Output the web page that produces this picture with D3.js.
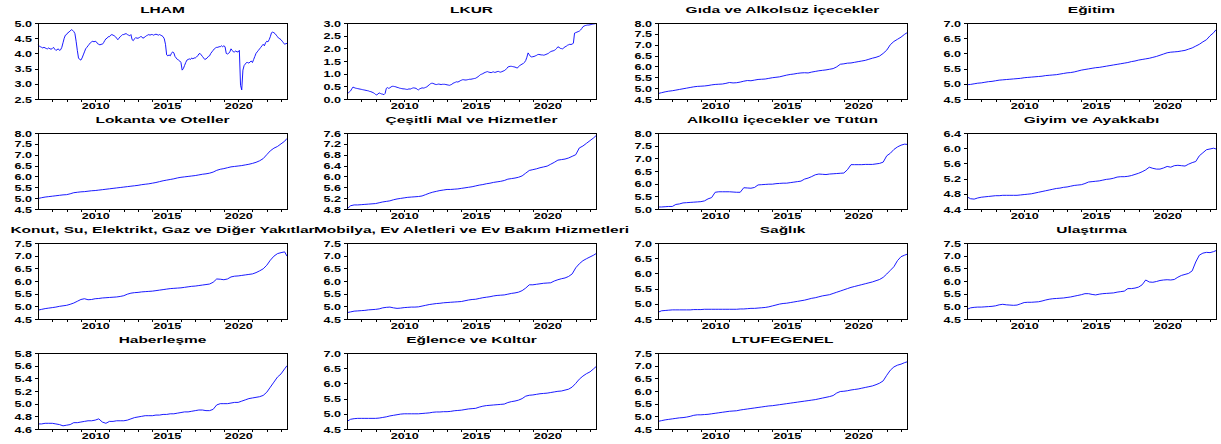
<!DOCTYPE html>
<html>
<head>
<meta charset="utf-8">
<script src="https://cdnjs.cloudflare.com/ajax/libs/d3/7.8.5/d3.min.js"></script>
<style>
body { margin: 0; background: #fff; }
#vis-panels svg { display: block; }
</style>
</head>
<body>
<div id="vis-panels"></div>
<script>
// panel titles, in drawing order (4 per row)
var titles = ["LHAM", "LKUR", "Gıda ve Alkolsüz İçecekler", "Eğitim",
              "Lokanta ve Oteller", "Çeşitli Mal ve Hizmetler", "Alkollü İçecekler ve Tütün", "Giyim ve Ayakkabı",
              "Konut, Su, Elektrikt, Gaz ve Diğer Yakıtlar", "Mobilya, Ev Aletleri ve Ev Bakım Hizmetleri", "Sağlık", "Ulaştırma",
              "Haberleşme", "Eğlence ve Kültür", "LTUFEGENEL"];

// y axis range and tick step for each panel
var yMin  = [2.5, 0.0, 4.5, 4.5, 4.5, 4.8, 5.0, 4.4, 4.5, 4.5, 4.5, 4.5, 4.6, 4.5, 4.5];
var yMax  = [5.0, 3.0, 8.0, 7.0, 8.0, 7.6, 8.0, 6.4, 7.5, 7.5, 7.0, 7.5, 5.8, 7.0, 7.5];
var yStep = [0.5, 0.5, 0.5, 0.5, 0.5, 0.4, 0.5, 0.4, 0.5, 0.5, 0.5, 0.5, 0.2, 0.5, 0.5];

var yearLabels = [2010, 2015, 2020];

// monthly series 2006M01 - 2023M06
var lham = [
  4.28, 4.24, 4.22, 4.20, 4.18, 4.20, 4.18, 4.16, 4.15, 4.18, 4.15, 4.14,
  4.16, 4.20, 4.14, 4.10, 4.12, 4.15, 4.10, 4.12, 4.20, 4.35, 4.50, 4.60,
  4.62, 4.68, 4.70, 4.74, 4.78, 4.76, 4.72, 4.65, 4.40, 4.10, 3.85, 3.80,
  3.78, 3.85, 3.95, 4.05, 4.15, 4.20, 4.25, 4.30, 4.35, 4.38, 4.40, 4.38,
  4.40, 4.38, 4.32, 4.30, 4.28, 4.30, 4.30, 4.35, 4.42, 4.48, 4.50, 4.55,
  4.55, 4.60, 4.62, 4.60, 4.58, 4.55, 4.50, 4.45, 4.50, 4.55, 4.58, 4.62,
  4.62, 4.64, 4.65, 4.62, 4.60, 4.58, 4.62, 4.45, 4.42, 4.48, 4.52, 4.50,
  4.50, 4.52, 4.55, 4.55, 4.50, 4.52, 4.55, 4.58, 4.60, 4.62, 4.60, 4.62,
  4.62, 4.60, 4.62, 4.63, 4.62, 4.60, 4.62, 4.60, 4.58, 4.55, 4.48, 4.30,
  3.95, 3.92, 3.95, 3.92, 4.00, 4.05, 4.02, 3.90, 3.85, 3.80, 3.78, 3.75,
  3.70, 3.45, 3.50, 3.60, 3.70, 3.78, 3.80, 3.82, 3.80, 3.85, 3.82, 3.85,
  3.85, 3.88, 3.92, 3.98, 4.00, 3.95, 3.90, 3.85, 3.80, 3.82, 3.85, 3.90,
  3.92, 4.00, 4.05, 4.10, 4.15, 4.18, 4.20, 4.20, 4.22, 4.22, 4.25, 4.22,
  4.25, 4.22, 4.00, 3.98, 4.00, 4.05, 4.15, 4.10, 4.05, 4.05, 4.08, 4.05,
  4.05, 4.10, 2.95, 2.80, 3.45, 3.60, 3.65, 3.70, 3.70, 3.68, 3.72, 3.75,
  3.70, 3.80, 3.90, 4.00, 4.05, 4.10, 4.15, 4.20, 4.25, 4.30, 4.25, 4.35,
  4.40, 4.38, 4.45, 4.55, 4.68, 4.70, 4.68, 4.65, 4.60, 4.55, 4.50, 4.48,
  4.45, 4.40, 4.35, 4.30, 4.32, 4.33];

var lkur = [
  0.25, 0.24, 0.28, 0.32, 0.40, 0.47, 0.45, 0.43, 0.42, 0.41, 0.40, 0.39,
  0.38, 0.37, 0.36, 0.35, 0.34, 0.33, 0.32, 0.30, 0.29, 0.27, 0.25, 0.22,
  0.18, 0.16, 0.20, 0.24, 0.22, 0.20, 0.19, 0.17, 0.22, 0.42, 0.45, 0.42,
  0.44, 0.48, 0.50, 0.50, 0.49, 0.48, 0.46, 0.45, 0.43, 0.42, 0.41, 0.40,
  0.40, 0.39, 0.38, 0.38, 0.40, 0.39, 0.41, 0.43, 0.44, 0.43, 0.42, 0.38,
  0.36, 0.40, 0.42, 0.44, 0.43, 0.44, 0.46, 0.48, 0.52, 0.56, 0.60, 0.62,
  0.62, 0.60, 0.58, 0.57, 0.58, 0.59, 0.58, 0.57, 0.58, 0.58, 0.58, 0.57,
  0.56, 0.55, 0.54, 0.56, 0.58, 0.62, 0.64, 0.66, 0.68, 0.67, 0.69, 0.72,
  0.74, 0.76, 0.76, 0.75, 0.75, 0.76, 0.77, 0.78, 0.78, 0.79, 0.80, 0.81,
  0.82, 0.85, 0.88, 0.92, 0.96, 0.98, 1.00, 1.03, 1.05, 1.07, 1.08, 1.06,
  1.05, 1.04, 1.06, 1.07, 1.05, 1.06, 1.08, 1.09, 1.07, 1.06, 1.08, 1.10,
  1.12, 1.15, 1.20, 1.26, 1.28, 1.29, 1.29, 1.28, 1.27, 1.26, 1.24, 1.22,
  1.28, 1.32, 1.35, 1.38, 1.40, 1.45, 1.52, 1.65, 1.82, 1.75, 1.68, 1.66,
  1.67, 1.68, 1.70, 1.72, 1.75, 1.76, 1.75, 1.74, 1.74, 1.73, 1.74, 1.76,
  1.78, 1.80, 1.84, 1.87, 1.89, 1.90, 1.92, 1.95, 2.00, 2.06, 2.04, 2.00,
  1.99, 1.98, 2.02, 2.06, 2.08, 2.12, 2.14, 2.16, 2.15, 2.17, 2.20, 2.60,
  2.62, 2.64, 2.66, 2.68, 2.72, 2.78, 2.85, 2.88, 2.90, 2.91, 2.92, 2.92,
  2.93, 2.94, 2.95, 2.96, 2.97, 2.98];

// quarterly readings 2006Q1 - 2023Q2, last value is 2023M06
var gida = [
  4.75, 4.79, 4.83, 4.86,  4.88, 4.91, 4.94, 4.97,  5.00, 5.03, 5.06, 5.08,
  5.09, 5.10, 5.12, 5.15,  5.17, 5.18, 5.19, 5.22,  5.26, 5.24, 5.25, 5.28,
  5.32, 5.35, 5.34, 5.37,  5.40, 5.41, 5.42, 5.45,  5.48, 5.50, 5.52, 5.56,
  5.60, 5.63, 5.65, 5.68,  5.70, 5.71, 5.70, 5.74,  5.77, 5.80, 5.82, 5.84,
  5.87, 5.90, 5.98, 6.10,  6.12, 6.15, 6.16, 6.19,  6.22, 6.25, 6.28, 6.33,
  6.38, 6.42, 6.48, 6.60,  6.75, 7.00, 7.15, 7.25,  7.35, 7.48, 7.55];

var egitim = [
  4.97, 4.98, 5.00, 5.02,  5.03, 5.05, 5.07, 5.08,  5.10, 5.12, 5.13, 5.14,
  5.15, 5.16, 5.17, 5.18,  5.20, 5.21, 5.22, 5.23,  5.24, 5.25, 5.27, 5.28,
  5.29, 5.30, 5.32, 5.34,  5.36, 5.37, 5.39, 5.42,  5.45, 5.47, 5.49, 5.51,
  5.53, 5.54, 5.56, 5.58,  5.60, 5.62, 5.64, 5.66,  5.68, 5.70, 5.73, 5.75,
  5.78, 5.80, 5.82, 5.84,  5.87, 5.90, 5.94, 5.98,  6.02, 6.04, 6.05, 6.06,
  6.08, 6.10, 6.14, 6.18,  6.24, 6.30, 6.38, 6.45,  6.58, 6.68, 6.78];

var lokanta = [
  4.98, 5.02, 5.05, 5.07,  5.09, 5.11, 5.13, 5.15,  5.16, 5.20, 5.25, 5.27,
  5.29, 5.30, 5.32, 5.34,  5.35, 5.37, 5.39, 5.41,  5.43, 5.45, 5.47, 5.49,
  5.51, 5.53, 5.55, 5.57,  5.59, 5.62, 5.64, 5.66,  5.69, 5.72, 5.76, 5.80,
  5.83, 5.86, 5.89, 5.93,  5.96, 5.98, 6.00, 6.02,  6.04, 6.07, 6.10, 6.12,
  6.15, 6.20, 6.28, 6.33,  6.36, 6.40, 6.44, 6.46,  6.48, 6.50, 6.53, 6.56,
  6.60, 6.65, 6.72, 6.82,  7.00, 7.18, 7.30, 7.38,  7.50, 7.62, 7.75];

var cesitli = [
  4.80, 4.92, 4.95, 4.95,  4.96, 4.97, 4.98, 4.99,  5.00, 5.03, 5.06, 5.08,
  5.10, 5.14, 5.17, 5.19,  5.21, 5.23, 5.24, 5.25,  5.26, 5.28, 5.33, 5.38,
  5.42, 5.45, 5.48, 5.50,  5.52, 5.52, 5.53, 5.54,  5.56, 5.58, 5.60, 5.62,
  5.65, 5.68, 5.70, 5.73,  5.75, 5.78, 5.80, 5.82,  5.85, 5.90, 5.92, 5.94,
  5.97, 6.02, 6.12, 6.22,  6.25, 6.28, 6.32, 6.35,  6.38, 6.45, 6.52, 6.60,
  6.62, 6.64, 6.68, 6.74,  6.80, 7.05, 7.12, 7.22,  7.32, 7.42, 7.50];

var alkollu = [
  5.08, 5.08, 5.09, 5.10,  5.10, 5.18, 5.20, 5.24,  5.25, 5.26, 5.27, 5.28,
  5.29, 5.32, 5.40, 5.45,  5.66, 5.68, 5.68, 5.68,  5.68, 5.67, 5.66, 5.66,
  5.84, 5.83, 5.82, 5.85,  5.95, 5.96, 5.97, 5.98,  5.98, 6.00, 6.01, 6.02,
  6.02, 6.04, 6.06, 6.08,  6.10, 6.18, 6.22, 6.28,  6.35, 6.38, 6.37, 6.36,
  6.38, 6.39, 6.40, 6.41,  6.42, 6.55, 6.75, 6.75,  6.75, 6.75, 6.76, 6.76,
  6.76, 6.78, 6.80, 6.85,  7.10, 7.20, 7.35, 7.45,  7.52, 7.56, 7.55];

var giyim = [
  4.72, 4.67, 4.66, 4.69,  4.71, 4.72, 4.73, 4.74,  4.75, 4.75, 4.76, 4.76,
  4.76, 4.76, 4.76, 4.77,  4.78, 4.79, 4.80, 4.82,  4.84, 4.86, 4.88, 4.90,
  4.92, 4.94, 4.95, 4.97,  4.98, 5.00, 5.02, 5.03,  5.04, 5.07, 5.11, 5.12,
  5.13, 5.14, 5.16, 5.18,  5.19, 5.21, 5.24, 5.25,  5.25, 5.26, 5.28, 5.31,
  5.34, 5.38, 5.43, 5.50,  5.47, 5.45, 5.45, 5.48,  5.52, 5.50, 5.54, 5.55,
  5.54, 5.53, 5.58, 5.62,  5.65, 5.80, 5.88, 5.96,  5.98, 6.00, 5.98];

var konut = [
  4.85, 4.88, 4.91, 4.93,  4.95, 4.97, 5.00, 5.02,  5.04, 5.08, 5.13, 5.20,
  5.27, 5.30, 5.26, 5.27,  5.30, 5.31, 5.33, 5.34,  5.35, 5.36, 5.37, 5.39,
  5.42, 5.48, 5.52, 5.54,  5.55, 5.57, 5.58, 5.59,  5.60, 5.62, 5.64, 5.66,
  5.68, 5.70, 5.71, 5.72,  5.73, 5.75, 5.77, 5.79,  5.80, 5.82, 5.84, 5.86,
  5.88, 5.95, 6.08, 6.07,  6.05, 6.08, 6.16, 6.19,  6.20, 6.22, 6.24, 6.26,
  6.28, 6.33, 6.40, 6.48,  6.62, 6.82, 6.98, 7.08,  7.12, 7.15, 6.98];

var mobilya = [
  4.75, 4.78, 4.81, 4.82,  4.83, 4.84, 4.86, 4.87,  4.88, 4.90, 4.94, 4.96,
  4.97, 4.94, 4.92, 4.93,  4.95, 4.96, 4.97, 4.97,  4.98, 5.01, 5.04, 5.07,
  5.09, 5.11, 5.12, 5.14,  5.15, 5.16, 5.17, 5.18,  5.19, 5.22, 5.25, 5.27,
  5.28, 5.31, 5.34, 5.36,  5.38, 5.41, 5.43, 5.44,  5.45, 5.48, 5.51, 5.53,
  5.56, 5.62, 5.72, 5.85,  5.85, 5.87, 5.89, 5.91,  5.92, 5.93, 6.00, 6.05,
  6.09, 6.12, 6.18, 6.28,  6.52, 6.68, 6.80, 6.88,  6.95, 7.02, 7.08];

var saglik = [
  4.72, 4.77, 4.78, 4.79,  4.80, 4.80, 4.80, 4.80,  4.80, 4.80, 4.81, 4.81,
  4.81, 4.82, 4.82, 4.82,  4.82, 4.82, 4.82, 4.82,  4.82, 4.82, 4.82, 4.83,
  4.83, 4.84, 4.85, 4.85,  4.86, 4.87, 4.88, 4.90,  4.93, 4.96, 4.99, 5.01,
  5.02, 5.04, 5.06, 5.08,  5.10, 5.12, 5.15, 5.18,  5.20, 5.23, 5.26, 5.28,
  5.30, 5.34, 5.38, 5.42,  5.46, 5.50, 5.54, 5.57,  5.60, 5.63, 5.66, 5.69,
  5.72, 5.76, 5.80, 5.87,  5.98, 6.10, 6.22, 6.42,  6.55, 6.60, 6.63];

var ulastirma = [
  4.88, 4.94, 4.96, 4.97,  4.97, 4.98, 4.99, 5.00,  5.02, 5.06, 5.08, 5.06,
  5.05, 5.04, 5.05, 5.10,  5.15, 5.16, 5.16, 5.17,  5.18, 5.21, 5.25, 5.28,
  5.30, 5.31, 5.32, 5.33,  5.35, 5.37, 5.40, 5.43,  5.46, 5.50, 5.50, 5.47,
  5.45, 5.48, 5.50, 5.51,  5.52, 5.53, 5.56, 5.58,  5.60, 5.70, 5.70, 5.72,
  5.76, 5.85, 6.04, 5.96,  5.95, 5.98, 6.02, 6.04,  6.05, 6.04, 6.06, 6.15,
  6.22, 6.26, 6.30, 6.40,  6.75, 7.02, 7.10, 7.13,  7.12, 7.16, 7.20];

var haberlesme = [
  4.68, 4.68, 4.69, 4.69,  4.69, 4.68, 4.67, 4.65,  4.66, 4.67, 4.70, 4.70,
  4.71, 4.72, 4.73, 4.73,  4.74, 4.76, 4.71, 4.69,  4.72, 4.72, 4.73, 4.73,
  4.73, 4.74, 4.76, 4.78,  4.79, 4.80, 4.81, 4.81,  4.81, 4.82, 4.82, 4.83,
  4.83, 4.84, 4.84, 4.85,  4.86, 4.87, 4.87, 4.88,  4.89, 4.90, 4.90, 4.89,
  4.89, 4.91, 4.98, 5.00,  5.00, 5.00, 5.01, 5.02,  5.02, 5.04, 5.06, 5.08,
  5.09, 5.10, 5.11, 5.13,  5.18, 5.26, 5.34, 5.42,  5.47, 5.55, 5.60];

var eglence = [
  4.75, 4.82, 4.84, 4.85,  4.85, 4.85, 4.85, 4.85,  4.85, 4.86, 4.88, 4.90,
  4.93, 4.95, 4.97, 4.99,  5.00, 5.00, 5.00, 5.00,  5.00, 5.01, 5.02, 5.03,
  5.05, 5.06, 5.06, 5.07,  5.07, 5.08, 5.10, 5.11,  5.12, 5.14, 5.16, 5.17,
  5.18, 5.22, 5.25, 5.27,  5.28, 5.29, 5.30, 5.31,  5.32, 5.37, 5.40, 5.42,
  5.45, 5.50, 5.58, 5.61,  5.62, 5.64, 5.66, 5.67,  5.68, 5.70, 5.72, 5.74,
  5.75, 5.78, 5.81, 5.88,  6.00, 6.14, 6.24, 6.32,  6.38, 6.48, 6.55];

var ltufe = [
  4.80, 4.83, 4.86, 4.88,  4.90, 4.92, 4.94, 4.95,  4.97, 5.00, 5.04, 5.06,
  5.06, 5.07, 5.08, 5.10,  5.12, 5.14, 5.16, 5.18,  5.20, 5.21, 5.22, 5.25,
  5.27, 5.29, 5.31, 5.33,  5.35, 5.37, 5.39, 5.41,  5.42, 5.44, 5.46, 5.48,
  5.50, 5.52, 5.54, 5.56,  5.58, 5.60, 5.62, 5.64,  5.66, 5.69, 5.72, 5.75,
  5.78, 5.82, 5.92, 5.98,  5.99, 6.01, 6.04, 6.06,  6.08, 6.11, 6.14, 6.17,
  6.20, 6.25, 6.31, 6.40,  6.62, 6.82, 6.95, 7.02,  7.06, 7.12, 7.15];

// observation dates as decimal years
var months = d3.range(210).map(function(i) { return 2006 + i / 12; });
var quarters = d3.range(70).map(function(i) { return 2006 + i / 4; }).concat([2023 + 5 / 12]);

var seriesList = [lham, lkur, gida, egitim, lokanta, cesitli, alkollu, giyim,
                  konut, mobilya, saglik, ulastirma, haberlesme, eglence, ltufe];
var datesList = [months, months].concat(d3.range(13).map(function() { return quarters; }));

// layout of the 4x4 grid (pixels)
var width = 1221, height = 444;
var colLeft = [38, 347, 658, 967];
var rowTop = [23, 133, 243, 353];
var plotW = 249, plotH = 76;
var fontFamily = "'Liberation Sans', Arial, sans-serif";
var labelStretch = 1.4, titleStretch = 1.72;

var svg = d3.select("#vis-panels")
            .append("svg")
                .attr("width", width)
                .attr("height", height);

var x = d3.scaleLinear()
            .domain([2006, 2023 + 5 / 12])
            .range([0, plotW]);

function drawPanel(i) {
    var col = i % 4, row = Math.floor(i / 4);
    var g = svg.append("g")
                .attr("transform", "translate(" + colLeft[col] + "," + rowTop[row] + ")");

    var y = d3.scaleLinear()
                .domain([yMin[i], yMax[i]])
                .range([plotH, 0]);

    var yTicks = d3.range(Math.round((yMax[i] - yMin[i]) / yStep[i]) + 1)
                    .map(function(k) { return +(yMin[i] + k * yStep[i]).toFixed(2); });

    // Y axis
    var yAxis = g.append("g")
        .call(d3.axisLeft(y).tickValues(yTicks).tickSize(3).tickFormat(d3.format(".1f")));
    yAxis.select(".domain").remove();
    yAxis.selectAll("line").attr("stroke", "#000").attr("shape-rendering", "crispEdges");
    yAxis.selectAll("text")
        .attr("x", -6 / labelStretch)
        .attr("dy", "0.34em")
        .attr("transform", "scale(" + labelStretch + ",1)")
        .style("font-family", fontFamily)
        .style("font-size", "9px")
        .style("font-weight", "bold")
        .attr("fill", "#000");

    // X axis, a tick every year, labels every 5 years
    var xAxis = g.append("g")
        .attr("transform", "translate(0," + plotH + ")")
        .call(d3.axisBottom(x)
                .tickValues(d3.range(2007, 2024))
                .tickSize(3)
                .tickFormat(function(d) { return yearLabels.indexOf(d) >= 0 ? d : ""; }));
    xAxis.select(".domain").remove();
    xAxis.selectAll("line").attr("stroke", "#000").attr("shape-rendering", "crispEdges");
    xAxis.selectAll("text")
        .attr("y", 4)
        .attr("x", 0)
        .attr("dy", "0.71em")
        .attr("transform", "scale(" + labelStretch + ",1)")
        .style("font-family", fontFamily)
        .style("font-size", "9px")
        .style("font-weight", "bold")
        .attr("fill", "#000");

    // the series
    var dates = datesList[i];
    var values = seriesList[i];
    var points = d3.range(Math.min(dates.length, values.length))
                    .map(function(k) { return [dates[k], values[k]]; });
    g.append("path")
        .datum(points)
        .attr("fill", "none")
        .attr("stroke", "#0000ff")
        .attr("stroke-width", 0.9)
        .attr("d", d3.line()
                    .x(function(d) { return x(d[0]); })
                    .y(function(d) { return y(d[1]); }));

    // frame
    g.append("rect")
        .attr("x", 0.5)
        .attr("y", 0.5)
        .attr("width", plotW)
        .attr("height", plotH)
        .attr("fill", "none")
        .attr("stroke", "#000")
        .attr("shape-rendering", "crispEdges");

    // title
    g.append("text")
        .attr("transform", "translate(" + (plotW / 2) + ",-10) scale(" + titleStretch + ",1)")
        .attr("text-anchor", "middle")
        .style("font-family", fontFamily)
        .style("font-size", "9px")
        .style("font-weight", "bold")
        .text(titles[i]);
}

for (var i = 0; i < titles.length; i++) {
    drawPanel(i);
}
</script>
</body>
</html>
